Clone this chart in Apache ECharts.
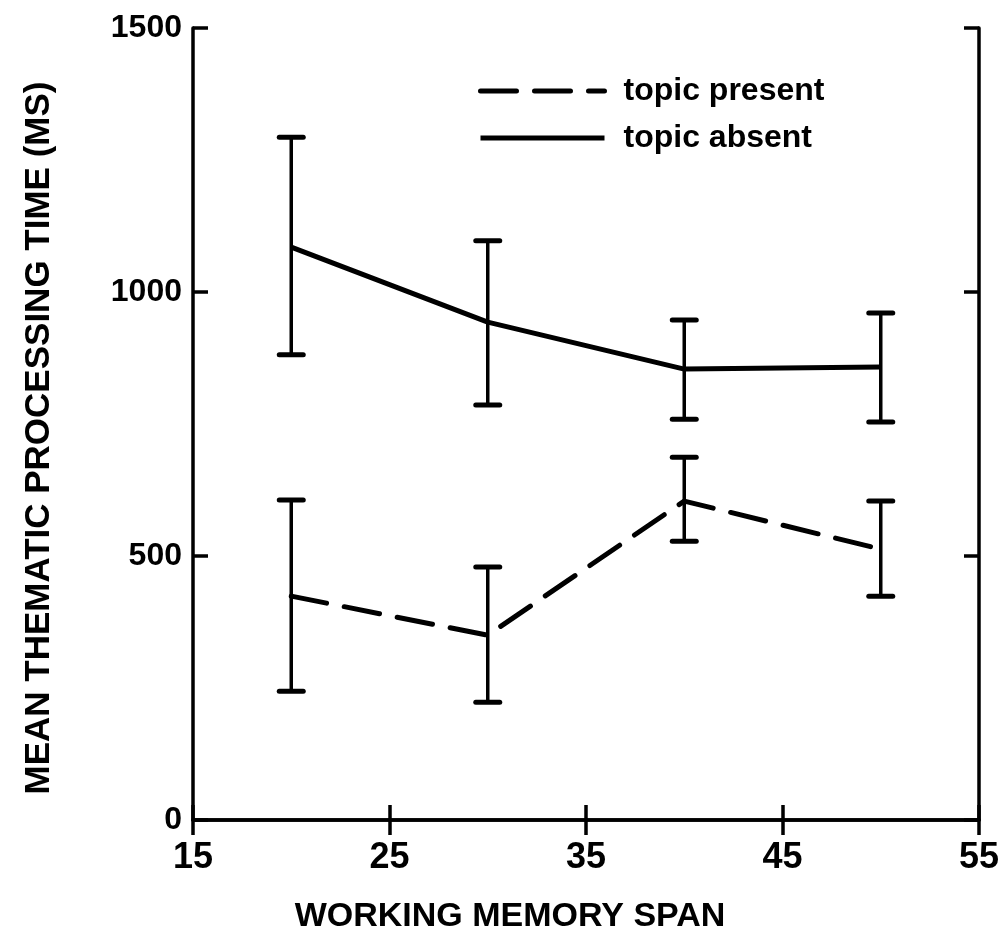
<!DOCTYPE html>
<html><head><meta charset="utf-8">
<script src="https://cdn.jsdelivr.net/npm/echarts@6/dist/echarts.min.js"></script>
<style>html,body{margin:0;padding:0;background:#fff}#c{width:1008px;height:949px}</style>
</head><body><div id="c"></div>
<script>
const spans = [20, 30, 40, 50];
const absentMean = [1085, 943, 854, 858];
const absentLow = [881, 786, 759, 754];
const absentHigh = [1293, 1097, 947, 960];
const presentMean = [424, 350, 604, 513];
const presentLow = [244, 223, 528, 424];
const presentHigh = [606, 479, 687, 604];
const xTicks = [15, 25, 35, 45, 55];
const yTicks = [0, 500, 1000, 1500];

const FONT = '"Liberation Sans", Arial, sans-serif';
const DASH = [36, 18];
const chart = echarts.init(document.getElementById('c'));

function errData(low, high) { return spans.map((x, i) => [x, low[i], high[i]]); }
function renderErr(params, api) {
  const x = api.value(0);
  const lo = api.coord([x, api.value(1)]);
  const hi = api.coord([x, api.value(2)]);
  const w = 12;
  const st = { stroke: '#000', lineWidth: 3.5, lineCap: 'round' };
  const cap = { stroke: '#000', lineWidth: 5, lineCap: 'round' };
  return { type: 'group', children: [
    { type: 'line', shape: { x1: lo[0], y1: lo[1], x2: hi[0], y2: hi[1] }, style: st },
    { type: 'line', shape: { x1: lo[0] - w, y1: lo[1], x2: lo[0] + w, y2: lo[1] }, style: cap },
    { type: 'line', shape: { x1: hi[0] - w, y1: hi[1], x2: hi[0] + w, y2: hi[1] }, style: cap }
  ]};
}

const axisCommon = {
  axisLine: { show: true, lineStyle: { color: '#000', width: 3.5 } },
  axisTick: { show: true, inside: true, length: 15, lineStyle: { color: '#000', width: 3.5 } },
  splitLine: { show: false }
};

chart.setOption({
  animation: false,
  backgroundColor: '#fff',
  grid: { left: 193, right: 29, top: 28, bottom: 129 },
  legend: {
    left: 473, top: 70, orient: 'vertical', itemGap: 15, itemWidth: 124, itemHeight: 32,
    itemStyle: { opacity: 0 },
    textStyle: { fontFamily: FONT, fontWeight: 'bold', fontSize: 32, color: '#000', padding: [0, 0, 0, 14] },
    data: [
      { name: 'topic present', lineStyle: { color: '#000', width: 5, type: DASH, cap: 'round' } },
      { name: 'topic absent', lineStyle: { color: '#000', width: 5, type: 'solid' } }
    ]
  },
  xAxis: [
    Object.assign({}, axisCommon, {
      type: 'value', min: 15, max: 55, interval: 10, position: 'bottom',
      name: 'WORKING MEMORY SPAN', nameLocation: 'middle', nameGap: 80,
      nameTextStyle: { fontFamily: FONT, fontWeight: 'bold', fontSize: 34, color: '#000', padding: [0, 152, 0, 0] },
      axisLabel: { fontFamily: FONT, fontWeight: 'bold', fontSize: 36, color: '#000', margin: 20,
        formatter: v => xTicks.includes(v) ? String(v) : '' }
    }),
    Object.assign({}, axisCommon, {
      type: 'value', min: 15, max: 55, interval: 10, position: 'top', axisLabel: { show: false }
    })
  ],
  yAxis: [
    Object.assign({}, axisCommon, {
      type: 'value', min: 0, max: 1500, interval: 500, position: 'left',
      name: 'MEAN THEMATIC PROCESSING TIME (MS)', nameLocation: 'middle', nameGap: 136,
      nameTextStyle: { fontFamily: FONT, fontWeight: 'bold', fontSize: 35, color: '#000', padding: [0, 28, 0, 0] },
      axisLabel: { fontFamily: FONT, fontWeight: 'bold', fontSize: 32, color: '#000', margin: 11,
        formatter: v => yTicks.includes(v) ? String(v) : '' }
    }),
    Object.assign({}, axisCommon, {
      type: 'value', min: 0, max: 1500, interval: 500, position: 'right', axisLabel: { show: false }
    })
  ],
  series: [
    { name: 'topic present', type: 'line', data: spans.map((x, i) => [x, presentMean[i]]),
      symbol: 'none', lineStyle: { color: '#000', width: 5, type: DASH, cap: 'round' }, itemStyle: { color: '#000' } },
    { name: 'topic absent', type: 'line', data: spans.map((x, i) => [x, absentMean[i]]),
      symbol: 'none', lineStyle: { color: '#000', width: 5, type: 'solid' }, itemStyle: { color: '#000' } },
    { name: 'errPresent', type: 'custom', renderItem: renderErr, data: errData(presentLow, presentHigh), z: 3 },
    { name: 'errAbsent', type: 'custom', renderItem: renderErr, data: errData(absentLow, absentHigh), z: 3 }
  ]
});
</script></body></html>
